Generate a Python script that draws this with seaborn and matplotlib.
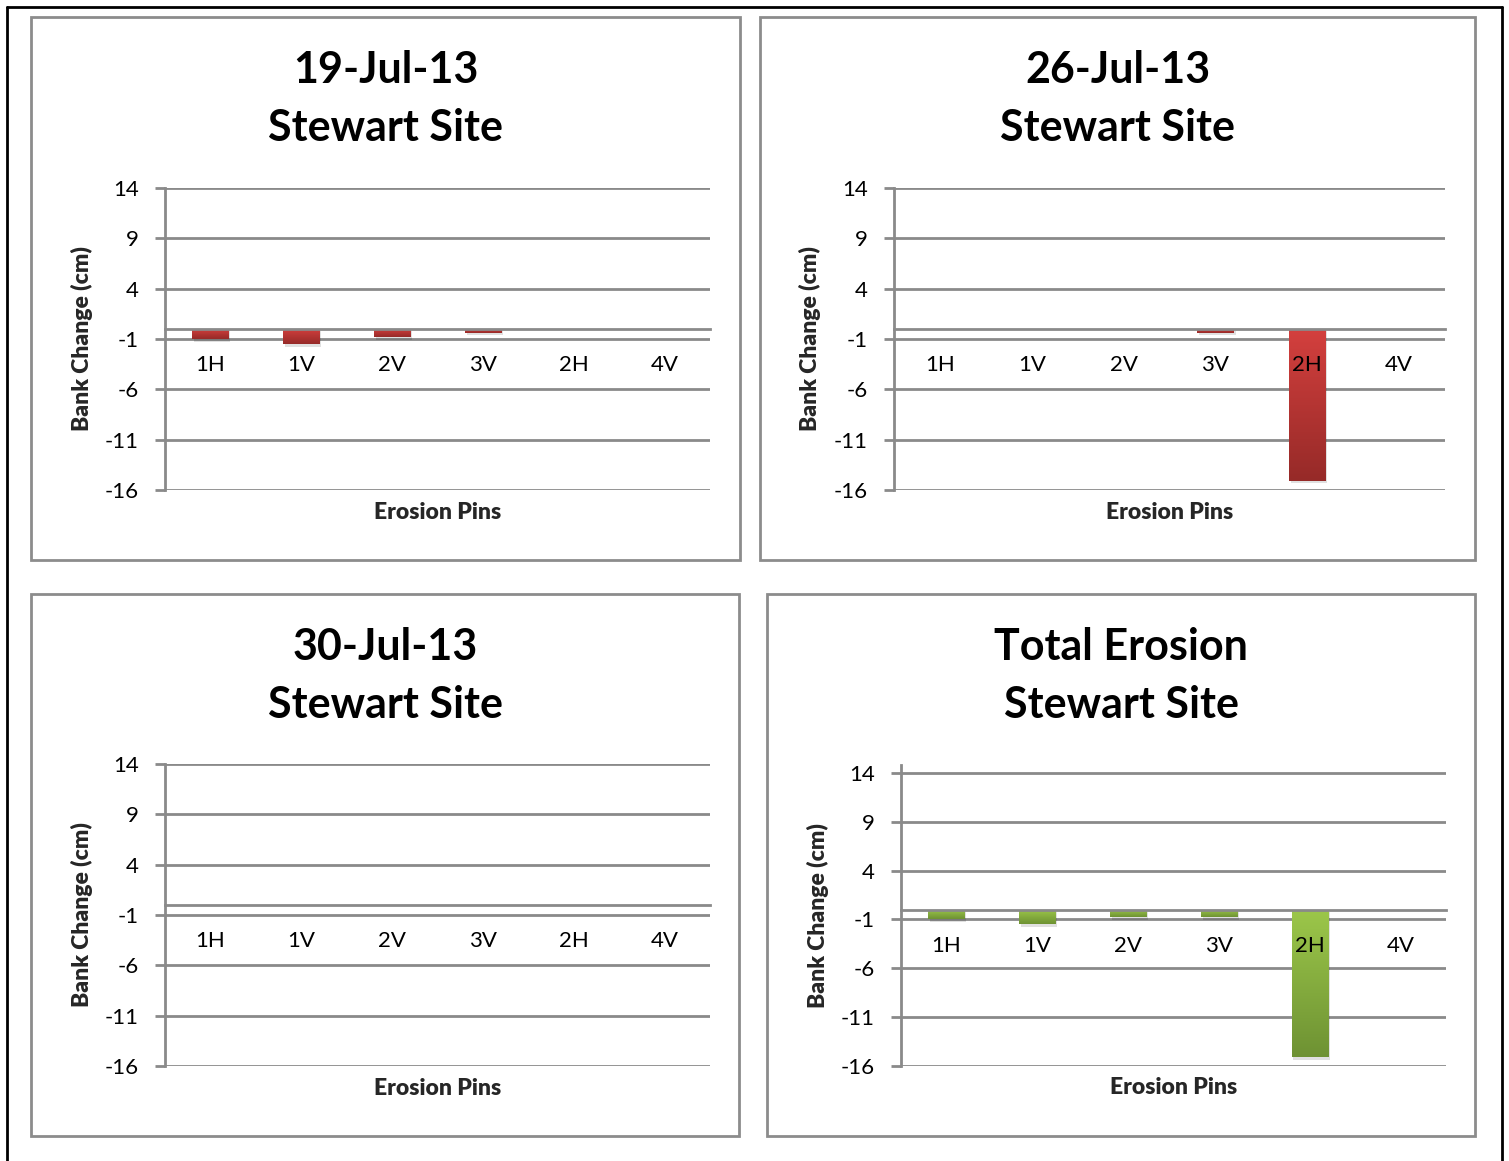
"""
Stewart Site erosion pins - bank change per survey date
"""
import numpy as np
import pandas as pd
import matplotlib
matplotlib.use('Agg')
import matplotlib.pyplot as plt
import seaborn as sns
from matplotlib.colors import LinearSegmentedColormap
from matplotlib.patches import Rectangle
from matplotlib.lines import Line2D

# ============================================================================
# DATA
# ============================================================================
pins = ['1H', '1V', '2V', '3V', '2H', '4V']
jul19 = [-1.0, -1.5, -0.8, -0.4, 0.0, 0.0]
jul26 = [0.0, 0.0, 0.0, -0.4, -15.1, 0.0]
jul30 = [0.0, 0.0, 0.0, 0.0, 0.0, 0.0]
total = [-1.0, -1.5, -0.8, -0.8, -15.1, 0.0]

titles = ['19-Jul-13', '26-Jul-13', '30-Jul-13', 'Total Erosion']
subtitle = 'Stewart Site'
yticks = [14, 9, 4, -1, -6, -11, -16]

# ============================================================================
# STYLE
# ============================================================================
sns.set_theme(style='white')
plt.rcParams['font.family'] = ['Lato', 'DejaVu Sans']
plt.rcParams['axes.unicode_minus'] = False

GRID = '#8a8a8a'
RED = ('#d4403e', '#962a28')
GREEN = ('#9cc74a', '#6e9233')

W, H = 1509, 1161
fig = plt.figure(figsize=(W / 100, H / 100), dpi=100)


def box(x0, y0, x1, y1):
    # pixel coords (top-left origin) -> figure fraction
    return [x0 / W, 1 - y1 / H, (x1 - x0) / W, (y1 - y0) / H]


# outer black frame (left, top, right)
for xs, ys in [([7, 7], [0, 7]), ([7, 1502], [7, 7]), ([1502, 1502], [7, 0])]:
    fig.add_artist(Line2D([x / W for x in xs], [1 - y / H if y else 0 for y in ys],
                          color='black', lw=2, transform=fig.transFigure))

panels = [
    dict(vals=jul19, colors=RED, frame=(31, 17, 740, 560), ax=(165, 188, 710, 490), top=14),
    dict(vals=jul26, colors=RED, frame=(760, 17, 1475, 560), ax=(894, 188, 1445, 490), top=14),
    dict(vals=jul30, colors=RED, frame=(31, 594, 739, 1136), ax=(165, 764, 710, 1066), top=14),
    dict(vals=total, colors=GREEN, frame=(767, 594, 1475, 1136), ax=(901, 765, 1446, 1066), top=14.8),
]


def gradient_bars(ax, colors):
    cmap = LinearSegmentedColormap.from_list('bar', [colors[1], colors[0]])
    grad = np.linspace(0, 1, 256).reshape(-1, 1)
    for p in ax.patches:
        p.set_linewidth(0)
        h = p.get_height()
        if h == 0:
            continue
        x0, y0 = p.get_x(), p.get_y()
        x1, y1 = x0 + p.get_width(), y0 + h
        lo, hi = min(y0, y1), max(y0, y1)
        # soft shadow under the bar
        ax.add_patch(Rectangle((x0 + 0.02, lo - 0.25), p.get_width(), hi - lo,
                               facecolor='#000000', alpha=0.12, lw=0, zorder=0.9))
        im = ax.imshow(grad, extent=(x0, x1, lo, hi), origin='lower', cmap=cmap,
                       aspect='auto', zorder=1.1)
        im.set_clip_path(p)
        p.set_facecolor(colors[0])


for i, pn in enumerate(panels):
    fx0, fy0, fx1, fy1 = pn['frame']
    fig.add_artist(Rectangle((fx0 / W, 1 - fy1 / H), (fx1 - fx0) / W, (fy1 - fy0) / H,
                             fill=False, edgecolor='#8c8c8c', lw=2, transform=fig.transFigure))
    cx = (fx0 + fx1) / 2 / W
    fig.text(cx, 1 - (fy0 + 53) / H, titles[i], ha='center', va='center',
             fontsize=31, fontweight='bold', color='black')
    fig.text(cx, 1 - (fy0 + 111) / H, subtitle, ha='center', va='center',
             fontsize=31, fontweight='bold', color='black')

    ax = fig.add_axes(box(*pn['ax']))
    df = pd.DataFrame({'pin': pins, 'change': pn['vals']})
    sns.barplot(data=df, x='pin', y='change', color=pn['colors'][0], width=0.4,
                ax=ax, saturation=1, zorder=1)
    gradient_bars(ax, pn['colors'])

    # gridlines below the bars
    for t in yticks:
        ax.axhline(t, color=GRID, lw=2, zorder=0.5)

    ax.set_xlim(-0.5, len(pins) - 0.5)
    ax.set_ylim(-16, pn['top'])
    ax.set_yticks(yticks)
    ax.set_xticks(range(len(pins)))
    ax.set_xticklabels(pins)
    ax.set_xlabel('')
    ax.set_ylabel('')

    for s in ['top', 'right']:
        ax.spines[s].set_visible(False)
    ax.spines['left'].set_color(GRID)
    ax.spines['left'].set_linewidth(2)
    ax.spines['bottom'].set_position(('data', 0))
    ax.spines['bottom'].set_color(GRID)
    ax.spines['bottom'].set_linewidth(2)
    ax.spines['bottom'].set_zorder(2)

    ax.tick_params(axis='y', length=7, width=2, color=GRID, pad=12,
                   labelsize=16, labelcolor='black', left=True)
    ax.tick_params(axis='x', length=0, pad=19, labelsize=16, labelcolor='black')
    ax.set_axisbelow(False)
    ax.patch.set_alpha(0)

    ax.text(0.5, -0.073, 'Erosion Pins', transform=ax.transAxes, ha='center',
            va='center', fontsize=16.5, fontweight='heavy')
    ax.text(-0.152, 0.5, 'Bank Change (cm)', transform=ax.transAxes, ha='center',
            va='center', rotation=90, fontsize=16.5, fontweight='heavy')

plt.savefig('out.png', dpi=100)
plt.close()
